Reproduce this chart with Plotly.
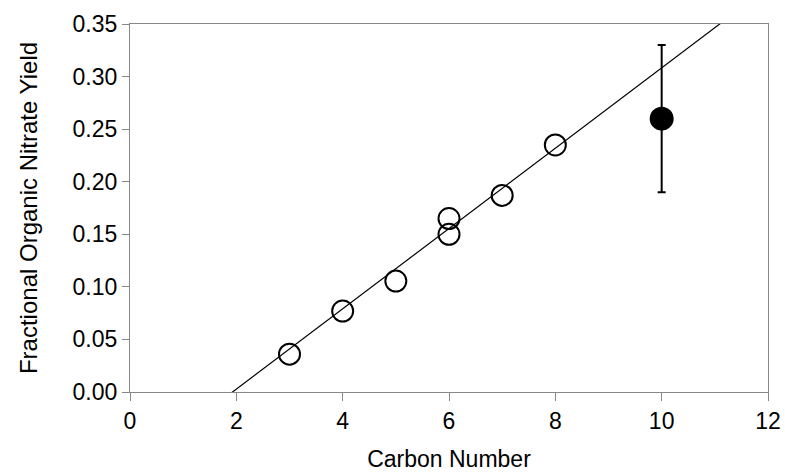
import numpy as np
import plotly.graph_objects as go

# Data
carbon_open = [3, 4, 5, 6, 6, 7, 8]
yield_open = [0.036, 0.077, 0.1055, 0.165, 0.150, 0.187, 0.235]
carbon_filled = [10]
yield_filled = [0.26]
yield_filled_err = [0.07]
fit_slope = 0.0382
fit_intercept = -0.0737
fit_x = [0, 12]
x_ticks = [0, 2, 4, 6, 8, 10, 12]
y_ticks = [0.00, 0.05, 0.10, 0.15, 0.20, 0.25, 0.30, 0.35]

fit_y = [fit_slope * x + fit_intercept for x in fit_x]

FONT = "Liberation Sans"
fig = go.Figure()
fig.add_trace(go.Scatter(x=fit_x, y=fit_y, mode="lines",
                         line=dict(color="black", width=1.2), showlegend=False))
fig.add_trace(go.Scatter(x=carbon_open, y=yield_open, mode="markers",
                         marker=dict(size=21, color="rgba(255,255,255,0)",
                                     line=dict(color="black", width=2)),
                         showlegend=False))
fig.add_trace(go.Scatter(x=carbon_filled, y=yield_filled, mode="markers",
                         marker=dict(size=24, color="black"),
                         error_y=dict(type="data", array=yield_filled_err, visible=True,
                                      color="black", thickness=2, width=4),
                         showlegend=False))

fig.update_layout(
    width=785, height=472,
    margin=dict(l=130, r=17, t=23.5, b=79.5),
    plot_bgcolor="white", paper_bgcolor="white",
    font=dict(family=FONT, color="black"),
    xaxis=dict(range=[0, 12], tickvals=x_ticks, ticktext=[str(v) for v in x_ticks],
               ticks="outside", ticklen=8, tickcolor="#888", showgrid=False, zeroline=False,
               showline=True, linecolor="#888", linewidth=1.3, mirror=True, automargin=False,
               tickfont=dict(size=23, family=FONT),
               title=dict(text="Carbon Number", font=dict(size=23, family=FONT), standoff=24)),
    yaxis=dict(range=[0, 0.35], tickvals=y_ticks, ticktext=["%.2f" % v for v in y_ticks],
               ticks="outside", ticklen=7, tickcolor="#888", showgrid=False, zeroline=False,
               showline=True, linecolor="#888", linewidth=1.3, mirror=True, automargin=False,
               tickfont=dict(size=23, family=FONT),
               title=dict(text="Fractional Organic Nitrate Yield", font=dict(size=24, family=FONT), standoff=28)),
)

fig.write_html("out.html")
